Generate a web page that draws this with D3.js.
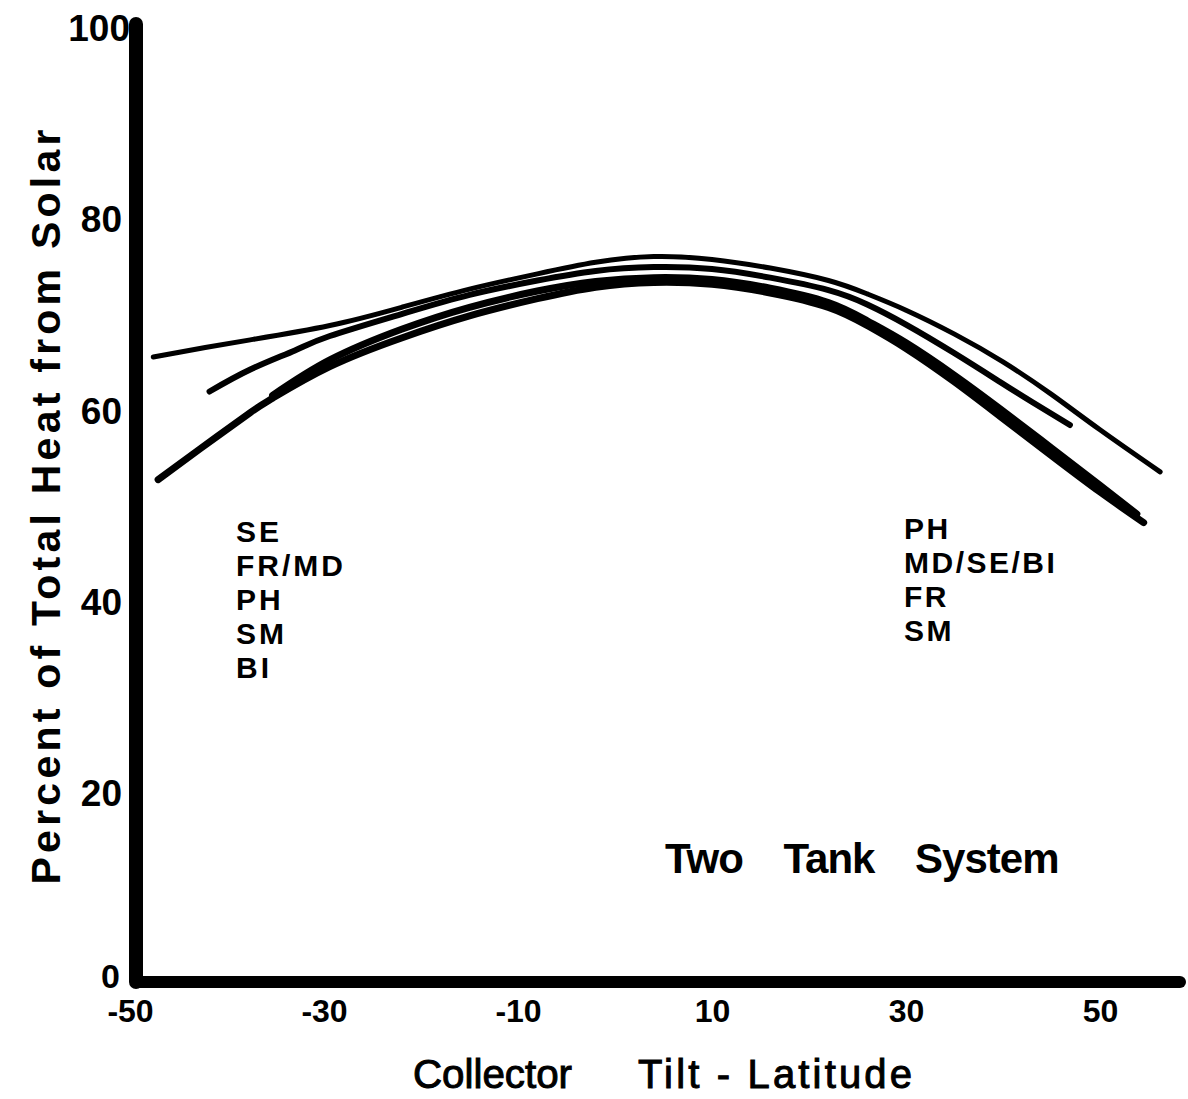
<!DOCTYPE html>
<html><head><meta charset="utf-8">
<script src="https://cdn.jsdelivr.net/npm/d3@7"></script>
<style>body{margin:0;background:#fff}svg{display:block}</style>
</head><body>
<script>
// ---- data ----
const xTicks = [-50, -30, -10, 10, 30, 50];
const yTicks = [0, 20, 40, 60, 80, 100];
const seriesNames = ["SE", "FR/MD", "PH", "SM/BI"];
const curveSE = [[-47.6,65.3],[-42.8,66.2],[-37.6,67.1],[-29.4,68.6],[-22,70.5],[-15,72.4],[-8,74.0],[-2,75.2],[4,75.8],[10,75.5],[16,74.6],[22,73.3],[26,71.9],[30,70.2],[35,67.7],[40,64.8],[45,61.4],[50,57.7],[56.2,53.3]];
const curveFRMD = [[-41.8,61.7],[-37.6,64.0],[-33,66.0],[-29.4,67.5],[-22,69.8],[-15,71.8],[-8,73.3],[-2,74.3],[4,74.7],[10,74.5],[16,73.6],[22,72.3],[26,70.8],[30,68.7],[35,65.7],[39.7,62.7],[43,60.6],[46.9,58.2]];
const curvePH = [[-35.3,61.3],[-29.4,65.0],[-22,68.2],[-15,70.5],[-8,72.2],[-2,73.2],[4,73.6],[10,73.4],[16,72.5],[22,71.0],[26,69.1],[30,66.8],[35,63.4],[39.7,59.9],[45,55.8],[50,51.9],[53.8,48.9]];
const curveSMBI = [[-47.1,52.5],[-42.8,55.7],[-37.6,59.5],[-35.3,61.0],[-29.4,64.3],[-22,67.3],[-15,69.6],[-8,71.4],[-2,72.6],[4,73.1],[10,72.9],[16,72.0],[22,70.5],[26,68.6],[30,66.2],[35,62.7],[39.7,59.1],[45,55.0],[50,51.2],[54.5,48.0]];
const leftLabels = ["SE", "FR/MD", "PH", "SM", "BI"];
const rightLabels = ["PH", "MD/SE/BI", "FR", "SM"];

const W = 1188, H = 1099;
const svg = d3.select("body").append("svg").attr("width", W).attr("height", H);
const x = d3.scaleLinear().domain([-50, 50]).range([130, 1100]);
const y = d3.scaleLinear().domain([0, 100]).range([982, 25]);
const font = "'Liberation Sans', Arial, sans-serif";

// axes lines
svg.append("line").attr("x1", 136).attr("x2", 136).attr("y1", 24).attr("y2", 982)
  .attr("stroke", "#000").attr("stroke-width", 14).attr("stroke-linecap", "round");
svg.append("line").attr("x1", 136).attr("x2", 1180).attr("y1", 982).attr("y2", 982)
  .attr("stroke", "#000").attr("stroke-width", 12).attr("stroke-linecap", "round");

// tick labels via axes (no tick lines)
const gy = svg.append("g").attr("transform", "translate(126,0)")
  .call(d3.axisLeft(y).tickValues(yTicks).tickSize(0).tickPadding(0));
gy.select(".domain").remove();
gy.selectAll("text").attr("font-family", font).attr("font-weight", "bold")
  .attr("font-size", d => d === 0 ? 34 : 37).attr("fill", "#000").attr("dy", "0.36em")
  .attr("x", d => d === 0 ? -6 : (d === 100 ? 4 : -4))
  .attr("y", d => d === 0 ? -7 : 2);

const gx = svg.append("g").attr("transform", "translate(0,996)")
  .call(d3.axisBottom(x).tickValues(xTicks).tickSize(0).tickPadding(0)
    .tickFormat(d => d < 0 ? "-" + Math.abs(d) : String(d)));
gx.select(".domain").remove();
gx.selectAll("text").attr("font-family", font).attr("font-weight", "bold")
  .attr("font-size", 32).attr("fill", "#000").attr("dy", "0.8em");

// curves
const line = d3.line().x(d => x(d[0])).y(d => y(d[1])).curve(d3.curveNatural);
const curves = [curveSE, curveFRMD, curvePH, curveSMBI];
const widths = [5, 6, 7, 7];
svg.append("g").selectAll("path").data(curves).join("path")
  .attr("d", line).attr("fill", "none").attr("stroke", "#000")
  .attr("stroke-width", (d, i) => widths[i]).attr("stroke-linecap", "round");

// labels
const lg = svg.append("g").attr("font-family", font).attr("font-weight", "bold").attr("font-size", 30).attr("fill", "#000");
lg.selectAll("text.l").data(leftLabels).join("text").attr("class", "l")
  .attr("x", 236).attr("y", (d, i) => 542 + i * 34).attr("letter-spacing", 3).text(d => d);
lg.selectAll("text.r").data(rightLabels).join("text").attr("class", "r")
  .attr("x", 904).attr("y", (d, i) => 539 + i * 34).attr("letter-spacing", 2.5).text(d => d);

svg.append("text").attr("x", 665).attr("y", 873).attr("font-family", font).attr("font-weight", "bold")
  .attr("font-size", 42).attr("word-spacing", 30).attr("letter-spacing", -1).text("Two Tank System");

// axis titles
svg.append("text").attr("x", 413).attr("y", 1088).attr("font-family", font)
  .attr("font-size", 40).attr("stroke", "#000").attr("stroke-width", 1)
  .attr("textLength", 159).attr("lengthAdjust", "spacingAndGlyphs").text("Collector");
svg.append("text").attr("x", 638).attr("y", 1088).attr("font-family", font)
  .attr("font-size", 40).attr("stroke", "#000").attr("stroke-width", 1)
  .attr("textLength", 274).attr("lengthAdjust", "spacing").text("Tilt - Latitude");
svg.append("text").attr("transform", "translate(60,507) rotate(-90)").attr("text-anchor", "middle")
  .attr("font-family", font).attr("font-weight", "bold").attr("font-size", 41)
  .attr("textLength", 755).attr("lengthAdjust", "spacing")
  .text("Percent of Total Heat from Solar");
</script>
</body></html>
